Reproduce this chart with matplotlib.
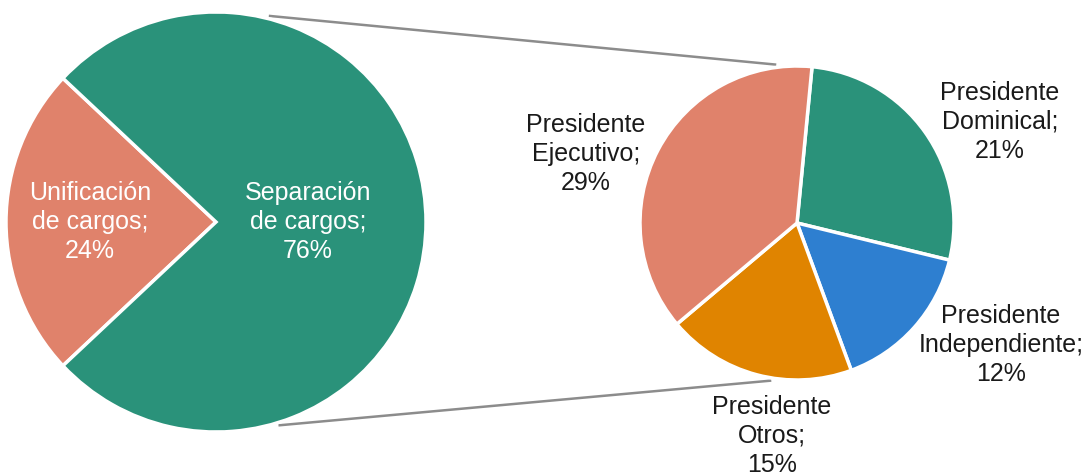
import numpy as np
import matplotlib
matplotlib.use("Agg")
import matplotlib.pyplot as plt

plt.rcParams['font.family'] = ['Liberation Sans', 'DejaVu Sans']

# main pie
main_labels = ['Unificación\nde cargos;\n24%', 'Separación\nde cargos;\n76%']
main_vals = [24, 76]
main_colors = ['#E0826B', '#2A927A']

# secondary pie (breakdown of separación)
sub_labels = ['Presidente\nDominical;\n21%', 'Presidente\nIndependiente;\n12%',
              'Presidente\nOtros;\n15%', 'Presidente\nEjecutivo;\n29%']
sub_vals = [21, 12, 15, 29]
sub_colors = ['#2A927A', '#2E7FD0', '#E08400', '#E0826B']

W, H = 1088, 475
fig = plt.figure(figsize=(W / 100, H / 100), dpi=100)
ax = fig.add_axes([0, 0, 1, 1])

c1, r1 = (216, 253), 210
c2, r2 = (797, 252), 157

wp = dict(edgecolor='white', linewidth=2.5)
ax.pie(main_vals, colors=main_colors, startangle=180 - main_vals[0] * 3.6 / 2,
       center=c1, radius=r1, wedgeprops=wp, frame=True)
ax.pie(sub_vals, colors=sub_colors, startangle=84.5, counterclock=False,
       center=c2, radius=r2, wedgeprops=wp, frame=True)
ax.set_xlim(0, W)
ax.set_ylim(0, H)
ax.set_aspect('equal')
ax.axis('off')

# connector lines
def pt(c, r, a):
    return c[0] + r * np.cos(np.radians(a)), c[1] + r * np.sin(np.radians(a))

for a1, a2 in [(75.3, 97.9), (-72.6, -99.7)]:
    p1 = pt(c1, r1 + 3, a1)
    p2 = pt(c2, r2 + 3, a2)
    ax.plot([p1[0], p2[0]], [p1[1], p2[1]], color='#8C8C8C', lw=1.8, zorder=0)

fs = 18
ls = 1.25
ax.text(90, H - 222, main_labels[0], color='white', fontsize=fs, ha='center', va='center', linespacing=ls)
ax.text(308, H - 222, main_labels[1], color='white', fontsize=fs, ha='center', va='center', linespacing=ls)

sub_pos = [(1000, 122), (1001, 345), (772, 436), (586, 154)]
for lab, (x, y) in zip(sub_labels, sub_pos):
    ax.text(x, H - y, lab, color='#1A1A1A', fontsize=fs, ha='center', va='center', linespacing=ls)

fig.savefig('out.png', dpi=100)
